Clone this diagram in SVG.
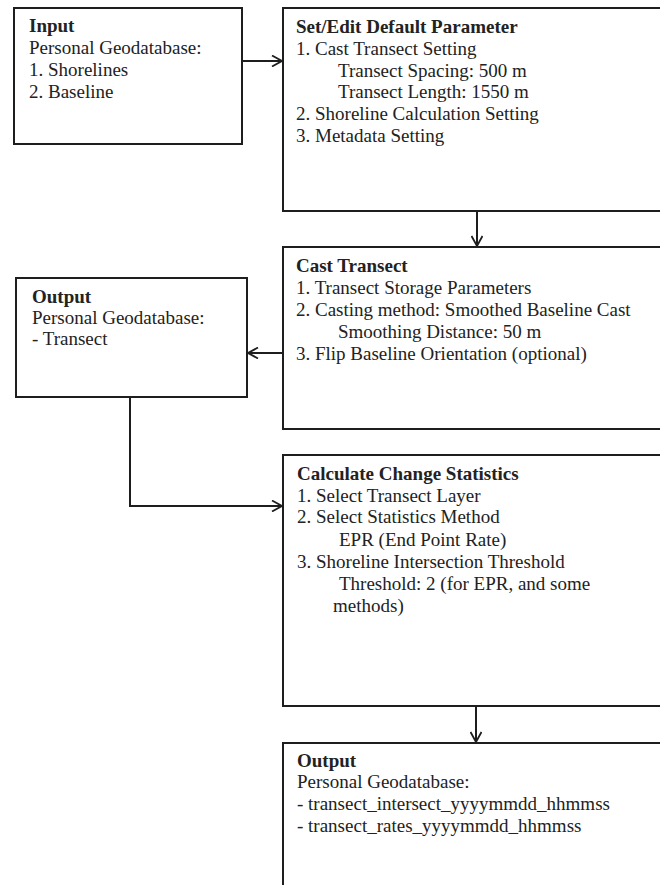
<svg xmlns="http://www.w3.org/2000/svg" width="660" height="885" viewBox="0 0 660 885">
<defs>
<style>
.box{fill:#fff;stroke:#1e1e1e;stroke-width:2}
.t{font-family:"Liberation Serif","Times New Roman",serif;font-size:19px;fill:#222}
.b{font-weight:bold}
.c{fill:none;stroke:#1e1e1e;stroke-width:2}
</style>
<marker id="ah" viewBox="0 0 12 12" refX="11" refY="6" markerWidth="12" markerHeight="12" markerUnits="userSpaceOnUse" orient="auto">
<path d="M1,0.5 L11,6 L1,11.5" fill="none" stroke="#1e1e1e" stroke-width="1.8"/>
</marker>
</defs>
<rect width="660" height="885" fill="#fff"/>
<g id="input">
<rect class="box" x="14" y="8" width="228" height="136"/>
<text class="t b" x="29" y="32">Input</text>
<text class="t" x="29" y="54">Personal Geodatabase:</text>
<text class="t" x="29" y="76">1. Shorelines</text>
<text class="t" x="29" y="98">2. Baseline</text>
</g>
<g id="setedit">
<rect class="box" x="283" y="8" width="390" height="203"/>
<text class="t b" x="296" y="33">Set/Edit Default Parameter</text>
<text class="t" x="296" y="55">1. Cast Transect Setting</text>
<text class="t" x="338" y="77">Transect Spacing: 500 m</text>
<text class="t" x="338" y="98">Transect Length: 1550 m</text>
<text class="t" x="296" y="120">2. Shoreline Calculation Setting</text>
<text class="t" x="296" y="142">3. Metadata Setting</text>
</g>
<g id="cast">
<rect class="box" x="283" y="247" width="390" height="182"/>
<text class="t b" x="296" y="272">Cast Transect</text>
<text class="t" x="296" y="294">1. Transect Storage Parameters</text>
<text class="t" x="296" y="316">2. Casting method: Smoothed Baseline Cast</text>
<text class="t" x="338" y="338">Smoothing Distance: 50 m</text>
<text class="t" x="296" y="360">3. Flip Baseline Orientation (optional)</text>
</g>
<g id="output1">
<rect class="box" x="16" y="278" width="231" height="119"/>
<text class="t b" x="32" y="303">Output</text>
<text class="t" x="32" y="324">Personal Geodatabase:</text>
<text class="t" x="32" y="345">- Transect</text>
</g>
<g id="calc">
<rect class="box" x="283" y="455" width="390" height="251"/>
<text class="t b" x="297" y="480">Calculate Change Statistics</text>
<text class="t" x="297" y="502">1. Select Transect Layer</text>
<text class="t" x="297" y="523">2. Select Statistics Method</text>
<text class="t" x="339" y="546">EPR (End Point Rate)</text>
<text class="t" x="297" y="568">3. Shoreline Intersection Threshold</text>
<text class="t" x="339" y="590">Threshold: 2 (for EPR, and some</text>
<text class="t" x="333" y="612">methods)</text>
</g>
<g id="output2">
<rect class="box" x="283" y="743" width="390" height="160"/>
<text class="t b" x="297" y="767">Output</text>
<text class="t" x="297" y="788">Personal Geodatabase:</text>
<text class="t" x="297" y="810">- transect_intersect_yyyymmdd_hhmmss</text>
<text class="t" x="297" y="832">- transect_rates_yyyymmdd_hhmmss</text>
</g>
<g id="connectors">
<path class="c" d="M242,61 H282" marker-end="url(#ah)"/>
<path class="c" d="M477,211 V246" marker-end="url(#ah)"/>
<path class="c" d="M283,353 H248" marker-end="url(#ah)"/>
<path class="c" d="M130,397 V506 H282" marker-end="url(#ah)"/>
<path class="c" d="M476,706 V742" marker-end="url(#ah)"/>
</g>
</svg>
